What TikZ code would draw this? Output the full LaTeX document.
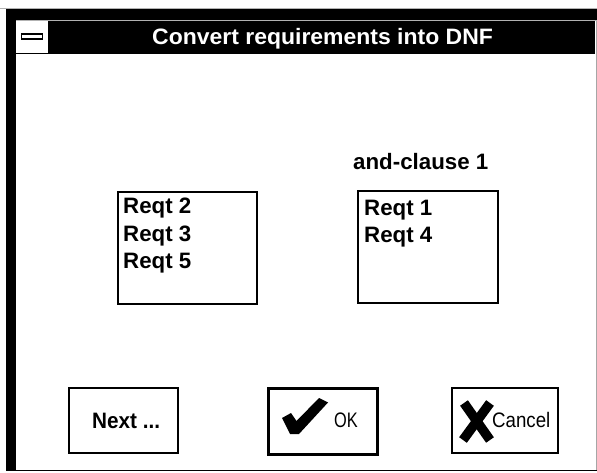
\documentclass[tikz,border=0pt]{standalone}
\usepackage{fontspec}
\setmainfont{Liberation Sans}
\newcommand\dlgbold{\fontsize{22.3}{27.5}\selectfont\bfseries}
\newcommand\dlgthin{\fontsize{21}{25}\selectfont}
\begin{document}
\begin{tikzpicture}[x=1pt,y=-1pt,
  listbox/.style={draw=black,line width=1.5pt,fill=white},
  btnbox/.style={draw=black,line width=1.5pt,fill=white},
  defbtn/.style={draw=black,line width=3pt,fill=white},
  lbl/.style={anchor=base west,inner sep=0pt,font=\dlgbold},
  thinlbl/.style={anchor=base west,inner sep=0pt,font=\dlgthin}]
\useasboundingbox (0,0) rectangle (597,473);
\fill[white] (0,0) rectangle (597,473);

% window frame
\draw[gray!60,line width=0.8pt] (0,8.4) -- (597,8.4);
\fill[black] (6,9) rectangle (597,20);
\draw[gray!60,line width=0.8pt] (16,20.5) -- (597,20.5);
\fill[black] (48,21) rectangle (595,54);
\fill[black] (6,9) rectangle (16,471);
\draw[black,line width=1.2pt] (16,53.6) -- (595,53.6);
\draw[gray!70,line width=1pt] (596,21) -- (596,471);
\draw[black,line width=1.4pt] (6,470.5) -- (597,470.5);

% system menu box
\node[draw=black,line width=1.5pt,fill=white,minimum width=21pt,minimum height=5pt,
  inner sep=0pt] (sysmenu) at (32,36.5) {};

% title
\node[anchor=base west,inner sep=0pt,text=white,font=\dlgbold] (title) at (152,45)
  {\scalebox{1.03}[1]{Convert requirements into DNF}};

% clause label and the two lists
\node[lbl] (clause) at (353,170) {and-clause 1};
\draw[listbox] (118,192) rectangle (257,304);
\draw[listbox] (358,191) rectangle (498,303);
\node[lbl] (r2) at (123,214) {Reqt 2};
\node[lbl] (r3) at (123,242) {Reqt 3};
\node[lbl] (r5) at (123,269) {Reqt 5};
\node[lbl] (r1) at (364,215) {Reqt 1};
\node[lbl] (r4) at (364,243) {Reqt 4};

% buttons
\draw[btnbox] (69,388) rectangle (178,453);
\node[lbl] (next) at (92,428) {\scalebox{0.93}[1]{Next ...}};

\draw[defbtn] (268,388) rectangle (377,454);
\fill[black] (282,418) -- (291,413) -- (296.5,421) -- (319,398) -- (328,402.5)
  -- (299,434) -- (290,434) -- cycle;
\node[thinlbl] (ok) at (334,427) {\scalebox{0.78}[1]{OK}};

\draw[btnbox] (452,388) rectangle (558,453);
\draw[black,line width=9.5pt] (464,403) -- (490,440);
\draw[black,line width=9.5pt] (490,403) -- (463,440);
\node[thinlbl] (cancel) at (492,427) {\scalebox{0.89}[1]{Cancel}};
\end{tikzpicture}
\end{document}
